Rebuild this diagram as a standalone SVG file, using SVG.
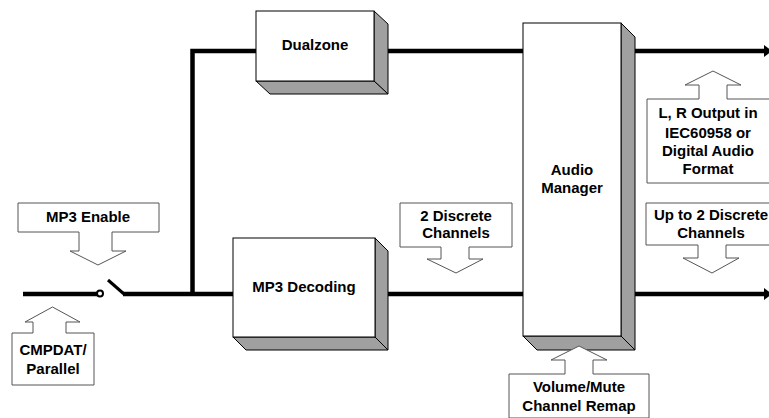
<svg xmlns="http://www.w3.org/2000/svg" width="769" height="418" viewBox="0 0 769 418">
<style>
.t{font-family:"Liberation Sans",Arial,sans-serif;font-weight:bold;font-size:15px;fill:#000;text-anchor:middle}
.face{fill:#fff;stroke:#000;stroke-width:1}
.side{fill:#a0a0a0;stroke:#000;stroke-width:1;stroke-linejoin:round}
.call{fill:#fff;stroke:#555;stroke-width:1}
.w{fill:none;stroke:#000;stroke-width:4.5}
</style>
<defs>
<marker id="ah" markerWidth="4" markerHeight="4" refX="2" refY="2" orient="auto" markerUnits="userSpaceOnUse" viewBox="0 0 4 4">
<path d="M0,0 L4,2 L0,4 z" fill="#000"/>
</marker>
</defs>
<g id="connectors">
<path class="w" d="M23,294 H97"/>
<circle cx="100" cy="293.5" r="3" fill="#fff" stroke="#000" stroke-width="2"/>
<path d="M108,280 L124,294" fill="none" stroke="#000" stroke-width="3"/>
<path class="w" d="M123,294 H234"/>
<path class="w" d="M192.5,294 V51 H257"/>
<path class="w" d="M384,51 H523"/>
<path class="w" d="M382,294 H523"/>
<path class="w" d="M628,51 H766"/>
<path class="w" d="M628,294 H766"/>
<path d="M764,45 L772,51 L764,57 z" fill="#000"/>
<path d="M764,288 L772,294 L764,300 z" fill="#000"/>
</g>
<g id="dualzone">
<path class="side" d="M374,11 L388,24 L388,94 L374,81 z"/>
<path class="side" d="M256,81 L374,81 L388,94 L270,94 z"/>
<rect class="face" x="256" y="11" width="118" height="70"/>
<text class="t" x="315" y="50">Dualzone</text>
</g>
<g id="mp3decoding">
<path class="side" d="M375,238 L388,251 L388,350 L375,337 z"/>
<path class="side" d="M233,337 L375,337 L388,350 L246,350 z"/>
<rect class="face" x="233" y="238" width="142" height="99"/>
<text class="t" x="304" y="292">MP3 Decoding</text>
</g>
<g id="audiomanager">
<path class="side" d="M621,23 L635,37 L635,350 L621,336 z"/>
<path class="side" d="M523,336 L621,336 L635,350 L537,350 z"/>
<rect class="face" x="523" y="23" width="98" height="313"/>
<text class="t" x="572" y="175">Audio</text>
<text class="t" x="572" y="193">Manager</text>
</g>
<g id="mp3enable">
<path class="call" d="M18,203 H159 V232 H112 V251 H126 L98,265 L70,251 H79 V232 H18 z"/>
<text class="t" x="88" y="222">MP3 Enable</text>
</g>
<g id="cmpdat">
<path class="call" d="M12,333 H33 V322 H25 L52.5,307 L80,322 H66 V333 H94 V385 H12 z"/>
<text class="t" x="53" y="355">CMPDAT/</text>
<text class="t" x="53" y="374">Parallel</text>
</g>
<g id="discrete2">
<path class="call" d="M400,203 H512 V247 H469 V259 H483 L456,273 L427,259 H441 V247 H400 z"/>
<text class="t" x="456" y="221">2 Discrete</text>
<text class="t" x="456" y="238">Channels</text>
</g>
<g id="lroutput">
<path class="call" d="M647,99 H699 V85 H685 L713,71 L741,85 H727 V99 H772 V183 H647 z"/>
<text class="t" x="708" y="118">L, R Output in</text>
<text class="t" x="708" y="138">IEC60958 or</text>
<text class="t" x="708" y="156">Digital Audio</text>
<text class="t" x="708" y="174">Format</text>
</g>
<g id="upto2">
<path class="call" d="M646,203 H772 V245 H726 V258 H739 L712,273 L683,258 H698 V245 H646 z"/>
<text class="t" x="711" y="220">Up to 2 Discrete</text>
<text class="t" x="711" y="238">Channels</text>
</g>
<g id="volume">
<path class="call" d="M509,374 H565 V360 H551 L579,346 L607,360 H593 V374 H649 V418 H509 z"/>
<text class="t" x="579" y="392">Volume/Mute</text>
<text class="t" x="579" y="411">Channel Remap</text>
</g>
</svg>
